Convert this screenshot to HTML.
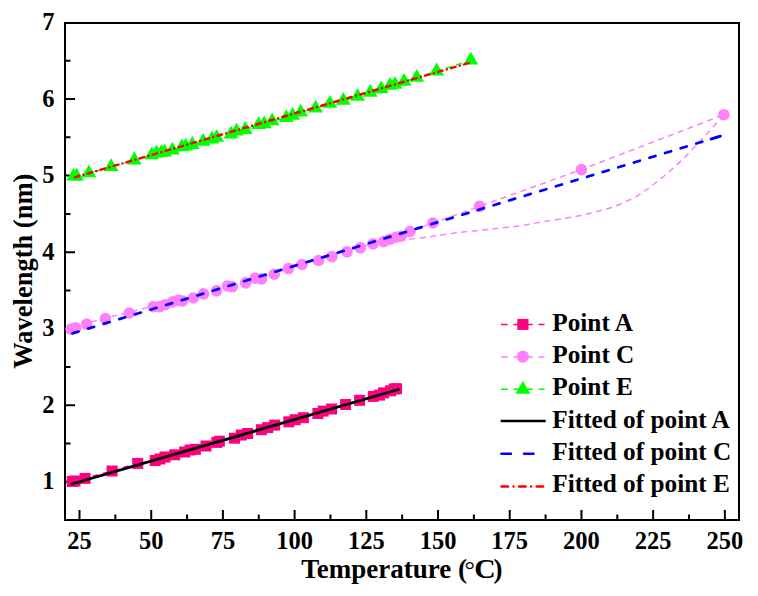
<!DOCTYPE html>
<html><head><meta charset="utf-8"><style>
html,body{margin:0;padding:0;background:#fff;width:758px;height:596px;overflow:hidden;}
body{position:relative;font-family:"Liberation Serif", serif;}
</style></head><body>
<svg width="758" height="596" viewBox="0 0 758 596" style="position:absolute;left:0;top:0">
<rect x="65" y="23" width="674" height="497" fill="none" stroke="#000" stroke-width="2"/>
<path d="M79.5 520 V510 M115.35 520 V514.5 M151.21 520 V510 M187.06 520 V514.5 M222.91 520 V510 M258.76 520 V514.5 M294.62 520 V510 M330.47 520 V514.5 M366.32 520 V510 M402.17 520 V514.5 M438.03 520 V510 M473.88 520 V514.5 M509.73 520 V510 M545.58 520 V514.5 M581.44 520 V510 M617.29 520 V514.5 M653.14 520 V510 M688.99 520 V514.5 M724.85 520 V510 M65 481.74 H75 M65 443.47 H70.5 M65 405.2 H75 M65 366.94 H70.5 M65 328.68 H75 M65 290.41 H70.5 M65 252.14 H75 M65 213.88 H70.5 M65 175.62 H75 M65 137.35 H70.5 M65 99.08 H75 M65 60.82 H70.5" stroke="#000" stroke-width="2" fill="none"/>
<path d="M71.1 328.4 L75.7 327.1 L86.8 323.4 L105.3 317.9 L129.3 312.3 L153.3 305.9 L159.7 305.9 L165.3 304 L172.7 301.2 L178.2 299.4 L182.5 300.3 L193.3 297.3 L203.5 293.2 L216.4 290.1 L227.5 285.3 L232.2 286.1 L245.7 282.2 L255.2 277.4 L261.5 278.2 L274.2 273.5 L288.4 267.9 L302 263.8 L318.5 259.8 L332 255.9 L347 251.1 L360.4 247.2 L373.1 243.2 L383.7 240.9 L390 238.5 L396 236.5 L401 235.5 L410 230.8 L432.9 223 L479.5 206.4 L581.4 169.6 L723.9 114.7" fill="none" stroke="#ff80ff" stroke-width="1.5" stroke-dasharray="6 4.5"/>
<path d="M723.9 114.7 C721.93 116.93 716.07 123.72 712.1 128.1 C708.13 132.48 703.87 136.97 700.1 141 C696.33 145.03 693.28 148.4 689.5 152.3 C685.72 156.2 681.43 160.62 677.4 164.4 C673.37 168.18 669.83 171.23 665.3 175 C660.77 178.77 654.7 183.62 650.2 187 C645.7 190.38 642.75 192.68 638.3 195.3 C633.85 197.92 628.78 200.42 623.5 202.7 C618.22 204.98 612.93 207.07 606.6 209 C600.27 210.93 592.53 212.72 585.5 214.3 C578.47 215.88 571.43 217.27 564.4 218.5 C557.37 219.73 550.33 220.53 543.3 221.7 C536.27 222.87 529.23 224.45 522.2 225.5 C515.17 226.55 507.78 227.23 501.1 228 C494.42 228.77 489.08 229.35 482.1 230.1 C475.12 230.85 466.63 231.58 459.2 232.5 C451.77 233.42 443.57 234.73 437.5 235.6 C431.43 236.47 428.38 237 422.8 237.7 C417.22 238.4 407.13 239.45 404 239.8" fill="none" stroke="#ff80ff" stroke-width="1.5" stroke-dasharray="6 4.5"/>
<path d="M73.7 176.3 L76.6 176.3 L88.9 173.1 L111.1 166.8 L134.3 160.2 L151.8 155 L156.6 153.3 L161.3 152.8 L164.5 152.3 L172.4 150.3 L181.9 147.1 L185.8 146.3 L192.2 144.7 L203.2 141.6 L212 139.2 L216.7 137.6 L231 134.4 L236.5 131.3 L245.2 129.7 L258.6 124.9 L264.2 124.1 L272.1 121 L286.3 117.9 L292.7 115.5 L300.6 112.3 L315.6 108.4 L329.9 103.6 L343.3 100.5 L357.6 96.5 L370.2 92.6 L381.2 89.1 L390 85.6 L395 84.6 L404 81.6 L416.7 77.6 L436.6 71.2 L470.8 60.4" fill="none" stroke="#00ff00" stroke-width="1.5" stroke-dasharray="6 4.5"/>
<path d="M72.3 481.4 L75 481 L85.1 478.4 L112.1 471 L137.7 463.4 L155.2 460.5 L160 459 L165 457 L174.7 454.8 L184.7 452 L190 450 L195.4 449.3 L206 446 L216.8 442.4 L219.4 441.2 L234.5 438.2 L241.3 435 L247.7 433.5 L261.4 429.7 L267.7 427.6 L274.7 425.1 L288.8 421.8 L295.2 419.7 L303.4 417.7 L317.9 413.5 L323.2 411.1 L331.7 409 L345.6 404.5 L359.6 400.3 L373.3 396.4 L379.5 395.1 L383.5 392.9 L390.6 390.8 L394.2 389 L396.5 388.7" fill="none" stroke="#ff0080" stroke-width="1.5" stroke-dasharray="6 4.5"/>
<circle cx="71.1" cy="329.1" r="5.8" fill="#ff80ff"/>
<circle cx="75.7" cy="327.8" r="5.8" fill="#ff80ff"/>
<circle cx="86.8" cy="324.1" r="5.8" fill="#ff80ff"/>
<circle cx="105.3" cy="318.6" r="5.8" fill="#ff80ff"/>
<circle cx="129.3" cy="313" r="5.8" fill="#ff80ff"/>
<circle cx="153.3" cy="306.6" r="5.8" fill="#ff80ff"/>
<circle cx="159.7" cy="306.6" r="5.8" fill="#ff80ff"/>
<circle cx="165.3" cy="304.7" r="5.8" fill="#ff80ff"/>
<circle cx="172.7" cy="301.9" r="5.8" fill="#ff80ff"/>
<circle cx="178.2" cy="300.1" r="5.8" fill="#ff80ff"/>
<circle cx="182.5" cy="301" r="5.8" fill="#ff80ff"/>
<circle cx="193.3" cy="298" r="5.8" fill="#ff80ff"/>
<circle cx="203.5" cy="293.9" r="5.8" fill="#ff80ff"/>
<circle cx="216.4" cy="290.8" r="5.8" fill="#ff80ff"/>
<circle cx="227.5" cy="286" r="5.8" fill="#ff80ff"/>
<circle cx="232.2" cy="286.8" r="5.8" fill="#ff80ff"/>
<circle cx="245.7" cy="282.9" r="5.8" fill="#ff80ff"/>
<circle cx="255.2" cy="278.1" r="5.8" fill="#ff80ff"/>
<circle cx="261.5" cy="278.9" r="5.8" fill="#ff80ff"/>
<circle cx="274.2" cy="274.2" r="5.8" fill="#ff80ff"/>
<circle cx="288.4" cy="268.6" r="5.8" fill="#ff80ff"/>
<circle cx="302" cy="264.5" r="5.8" fill="#ff80ff"/>
<circle cx="318.5" cy="260.5" r="5.8" fill="#ff80ff"/>
<circle cx="332" cy="256.6" r="5.8" fill="#ff80ff"/>
<circle cx="347" cy="251.8" r="5.8" fill="#ff80ff"/>
<circle cx="360.4" cy="247.9" r="5.8" fill="#ff80ff"/>
<circle cx="373.1" cy="243.9" r="5.8" fill="#ff80ff"/>
<circle cx="383.7" cy="241.6" r="5.8" fill="#ff80ff"/>
<circle cx="390" cy="239.2" r="5.8" fill="#ff80ff"/>
<circle cx="396" cy="237.2" r="5.8" fill="#ff80ff"/>
<circle cx="401" cy="236.2" r="5.8" fill="#ff80ff"/>
<circle cx="410" cy="231.5" r="5.8" fill="#ff80ff"/>
<circle cx="432.9" cy="223" r="5.8" fill="#ff80ff"/>
<circle cx="479.5" cy="206.4" r="5.8" fill="#ff80ff"/>
<circle cx="581.4" cy="169.6" r="5.8" fill="#ff80ff"/>
<circle cx="723.9" cy="114.7" r="5.8" fill="#ff80ff"/>
<path d="M73.7 167.7 L81.1 180.5 L66.3 180.5Z" fill="#00ff00"/>
<path d="M76.6 167.7 L84 180.5 L69.2 180.5Z" fill="#00ff00"/>
<path d="M88.9 164.5 L96.3 177.3 L81.5 177.3Z" fill="#00ff00"/>
<path d="M111.1 158.2 L118.5 171 L103.7 171Z" fill="#00ff00"/>
<path d="M134.3 151.6 L141.7 164.4 L126.9 164.4Z" fill="#00ff00"/>
<path d="M151.8 146.4 L159.2 159.2 L144.4 159.2Z" fill="#00ff00"/>
<path d="M156.6 144.7 L164 157.5 L149.2 157.5Z" fill="#00ff00"/>
<path d="M161.3 144.2 L168.7 157 L153.9 157Z" fill="#00ff00"/>
<path d="M164.5 143.7 L171.9 156.5 L157.1 156.5Z" fill="#00ff00"/>
<path d="M172.4 141.7 L179.8 154.5 L165 154.5Z" fill="#00ff00"/>
<path d="M181.9 138.5 L189.3 151.3 L174.5 151.3Z" fill="#00ff00"/>
<path d="M185.8 137.7 L193.2 150.5 L178.4 150.5Z" fill="#00ff00"/>
<path d="M192.2 136.1 L199.6 148.9 L184.8 148.9Z" fill="#00ff00"/>
<path d="M203.2 133 L210.6 145.8 L195.8 145.8Z" fill="#00ff00"/>
<path d="M212 130.6 L219.4 143.4 L204.6 143.4Z" fill="#00ff00"/>
<path d="M216.7 129 L224.1 141.8 L209.3 141.8Z" fill="#00ff00"/>
<path d="M231 125.8 L238.4 138.6 L223.6 138.6Z" fill="#00ff00"/>
<path d="M236.5 122.7 L243.9 135.5 L229.1 135.5Z" fill="#00ff00"/>
<path d="M245.2 121.1 L252.6 133.9 L237.8 133.9Z" fill="#00ff00"/>
<path d="M258.6 116.3 L266 129.1 L251.2 129.1Z" fill="#00ff00"/>
<path d="M264.2 115.5 L271.6 128.3 L256.8 128.3Z" fill="#00ff00"/>
<path d="M272.1 112.4 L279.5 125.2 L264.7 125.2Z" fill="#00ff00"/>
<path d="M286.3 109.3 L293.7 122.1 L278.9 122.1Z" fill="#00ff00"/>
<path d="M292.7 106.9 L300.1 119.7 L285.3 119.7Z" fill="#00ff00"/>
<path d="M300.6 103.7 L308 116.5 L293.2 116.5Z" fill="#00ff00"/>
<path d="M315.6 99.8 L323 112.6 L308.2 112.6Z" fill="#00ff00"/>
<path d="M329.9 95 L337.3 107.8 L322.5 107.8Z" fill="#00ff00"/>
<path d="M343.3 91.9 L350.7 104.7 L335.9 104.7Z" fill="#00ff00"/>
<path d="M357.6 87.9 L365 100.7 L350.2 100.7Z" fill="#00ff00"/>
<path d="M370.2 84 L377.6 96.8 L362.8 96.8Z" fill="#00ff00"/>
<path d="M381.2 80.5 L388.6 93.3 L373.8 93.3Z" fill="#00ff00"/>
<path d="M390 77 L397.4 89.8 L382.6 89.8Z" fill="#00ff00"/>
<path d="M395 76 L402.4 88.8 L387.6 88.8Z" fill="#00ff00"/>
<path d="M404 73 L411.4 85.8 L396.6 85.8Z" fill="#00ff00"/>
<path d="M416.7 69 L424.1 81.8 L409.3 81.8Z" fill="#00ff00"/>
<path d="M436.6 62.6 L444 75.4 L429.2 75.4Z" fill="#00ff00"/>
<path d="M470.8 51.8 L478.2 64.6 L463.4 64.6Z" fill="#00ff00"/>
<rect x="66.8" y="475.9" width="11" height="11" fill="#ff0080"/>
<rect x="69.5" y="475.5" width="11" height="11" fill="#ff0080"/>
<rect x="79.6" y="472.9" width="11" height="11" fill="#ff0080"/>
<rect x="106.6" y="465.5" width="11" height="11" fill="#ff0080"/>
<rect x="132.2" y="457.9" width="11" height="11" fill="#ff0080"/>
<rect x="149.7" y="455" width="11" height="11" fill="#ff0080"/>
<rect x="154.5" y="453.5" width="11" height="11" fill="#ff0080"/>
<rect x="159.5" y="451.5" width="11" height="11" fill="#ff0080"/>
<rect x="169.2" y="449.3" width="11" height="11" fill="#ff0080"/>
<rect x="179.2" y="446.5" width="11" height="11" fill="#ff0080"/>
<rect x="184.5" y="444.5" width="11" height="11" fill="#ff0080"/>
<rect x="189.9" y="443.8" width="11" height="11" fill="#ff0080"/>
<rect x="200.5" y="440.5" width="11" height="11" fill="#ff0080"/>
<rect x="211.3" y="436.9" width="11" height="11" fill="#ff0080"/>
<rect x="213.9" y="435.7" width="11" height="11" fill="#ff0080"/>
<rect x="229" y="432.7" width="11" height="11" fill="#ff0080"/>
<rect x="235.8" y="429.5" width="11" height="11" fill="#ff0080"/>
<rect x="242.2" y="428" width="11" height="11" fill="#ff0080"/>
<rect x="255.9" y="424.2" width="11" height="11" fill="#ff0080"/>
<rect x="262.2" y="422.1" width="11" height="11" fill="#ff0080"/>
<rect x="269.2" y="419.6" width="11" height="11" fill="#ff0080"/>
<rect x="283.3" y="416.3" width="11" height="11" fill="#ff0080"/>
<rect x="289.7" y="414.2" width="11" height="11" fill="#ff0080"/>
<rect x="297.9" y="412.2" width="11" height="11" fill="#ff0080"/>
<rect x="312.4" y="408" width="11" height="11" fill="#ff0080"/>
<rect x="317.7" y="405.6" width="11" height="11" fill="#ff0080"/>
<rect x="326.2" y="403.5" width="11" height="11" fill="#ff0080"/>
<rect x="340.1" y="399" width="11" height="11" fill="#ff0080"/>
<rect x="354.1" y="394.8" width="11" height="11" fill="#ff0080"/>
<rect x="367.8" y="390.9" width="11" height="11" fill="#ff0080"/>
<rect x="374" y="389.6" width="11" height="11" fill="#ff0080"/>
<rect x="378" y="387.4" width="11" height="11" fill="#ff0080"/>
<rect x="385.1" y="385.3" width="11" height="11" fill="#ff0080"/>
<rect x="388.7" y="383.5" width="11" height="11" fill="#ff0080"/>
<rect x="391" y="383.2" width="11" height="11" fill="#ff0080"/>
<line x1="71.9" y1="484" x2="398.3" y2="389.5" stroke="#000" stroke-width="2.8" stroke-linecap="round"/>
<line x1="72.5" y1="333.4" x2="721" y2="136" stroke="#0000ff" stroke-width="2.7" stroke-linecap="round" stroke-dasharray="6.3 10"/>
<line x1="711" y1="139.04" x2="720.5" y2="136.15" stroke="#0000ff" stroke-width="2.7" stroke-linecap="round"/>
<line x1="74.8" y1="177.2" x2="468.7" y2="63" stroke="#ff0000" stroke-width="2.5" stroke-linecap="round" stroke-dasharray="4.5 4.5 0.01 4.5"/>
<g font-family="Liberation Serif" font-weight="bold" font-size="24.5" fill="#000"><text x="79.5" y="549.3" text-anchor="middle">25</text><text x="151.21" y="549.3" text-anchor="middle">50</text><text x="222.91" y="549.3" text-anchor="middle">75</text><text x="294.62" y="549.3" text-anchor="middle">100</text><text x="366.32" y="549.3" text-anchor="middle">125</text><text x="438.03" y="549.3" text-anchor="middle">150</text><text x="509.73" y="549.3" text-anchor="middle">175</text><text x="581.44" y="549.3" text-anchor="middle">200</text><text x="653.14" y="549.3" text-anchor="middle">225</text><text x="724.85" y="549.3" text-anchor="middle">250</text><text x="54.5" y="489.34" text-anchor="end">1</text><text x="54.5" y="412.81" text-anchor="end">2</text><text x="54.5" y="336.28" text-anchor="end">3</text><text x="54.5" y="259.75" text-anchor="end">4</text><text x="54.5" y="183.22" text-anchor="end">5</text><text x="54.5" y="106.68" text-anchor="end">6</text><text x="54.5" y="30.16" text-anchor="end">7</text></g>
<g font-family="Liberation Serif" font-weight="bold" font-size="27"><text x="301.2" y="578.2">Temperature (</text><text x="464.6" y="578.2" font-weight="normal" font-size="26">°</text><text x="0" y="0" transform="translate(474.2 578.2) scale(1.1 1)">C</text><text x="493.5" y="578.2">)</text></g>
<text transform="translate(31.6 271.2) rotate(-90)" x="0" y="0" text-anchor="middle" font-family="Liberation Serif" font-weight="bold" font-size="26.5">Wavelength (nm)</text>
<line x1="501" y1="324.6" x2="544.5" y2="324.6" stroke="#ff0080" stroke-width="1.5" stroke-dasharray="6.7 5.8"/>
<rect x="517.3" y="318.9" width="11.2" height="11" fill="#ff0080"/>
<text x="552.3" y="330.8" font-family="Liberation Serif" font-weight="bold" font-size="25.25">Point A</text>
<line x1="501" y1="357" x2="544.5" y2="357" stroke="#ff80ff" stroke-width="1.5" stroke-dasharray="6.7 5.8"/>
<circle cx="522.85" cy="356.6" r="6.1" fill="#ff80ff"/>
<text x="552.3" y="363.2" font-family="Liberation Serif" font-weight="bold" font-size="25.25">Point C</text>
<line x1="501" y1="389.2" x2="544.5" y2="389.2" stroke="#00ff00" stroke-width="1.5" stroke-dasharray="6.7 5.8"/>
<path d="M522.9 380.8 L530.35 393.8 L515.45 393.8Z" fill="#00ff00"/>
<text x="552.3" y="395" font-family="Liberation Serif" font-weight="bold" font-size="25.25">Point E</text>
<line x1="500.6" y1="421" x2="545.7" y2="421" stroke="#000" stroke-width="2.4"/>
<text x="552.3" y="427.7" font-family="Liberation Serif" font-weight="bold" font-size="25.25">Fitted of point A</text>
<line x1="501.4" y1="453.7" x2="545" y2="453.7" stroke="#0000ff" stroke-width="2.5" stroke-linecap="round" stroke-dasharray="9.5 13.1"/>
<text x="552.3" y="459.5" font-family="Liberation Serif" font-weight="bold" font-size="25.25">Fitted of point C</text>
<line x1="501.5" y1="486.4" x2="543.5" y2="486.4" stroke="#ff0000" stroke-width="2.5" stroke-linecap="round" stroke-dasharray="6.5 5.55 0.01 5.55"/>
<text x="552.3" y="492.2" font-family="Liberation Serif" font-weight="bold" font-size="25.25">Fitted of point E</text>
</svg>
</body></html>
